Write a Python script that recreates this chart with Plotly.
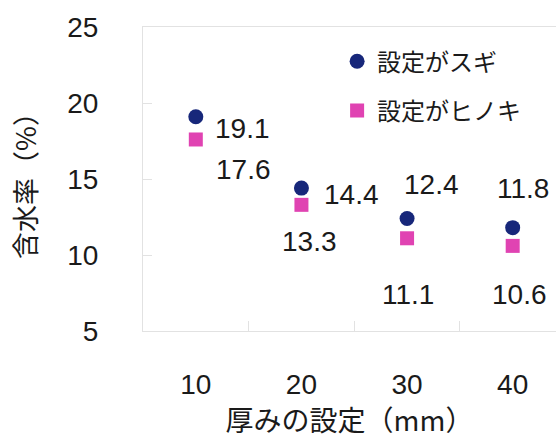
import plotly.graph_objects as go

# thickness settings (mm) and measured moisture content (%)
thickness = ["10", "20", "30", "40"]
sugi = [19.1, 14.4, 12.4, 11.8]
hinoki = [17.6, 13.3, 11.1, 10.6]
series_names = ["設定がスギ", "設定がヒノキ"]

# label offsets (px) from each marker
sugi_offsets = [(47, -12), (50, -6), (24, 34), (10, 39)]
hinoki_offsets = [(48, -30), (8, -37), (1, -56), (7, -49)]

FONT = "Liberation Sans, Arial, Noto Sans CJK JP, sans-serif"
JP_FONT = "Noto Sans CJK JP, sans-serif"
TEXT = "#1a1a1a"
NAVY = "#17277a"
MAGENTA = "#e043b2"
FRAME = "#e2e2e2"

fig = go.Figure()
fig.add_trace(go.Scatter(
    x=thickness, y=sugi, mode="markers", name=series_names[0],
    legendgroup="a",
    marker=dict(symbol="circle", size=15, color=NAVY),
))
fig.add_trace(go.Scatter(
    x=thickness, y=hinoki, mode="markers", name=series_names[1],
    legendgroup="b",
    marker=dict(symbol="square", size=14, color=MAGENTA),
))

# value labels; category positions are given by index on the category axis
for ys, offs in ((sugi, sugi_offsets), (hinoki, hinoki_offsets)):
    for i, (yv, (dx, dy)) in enumerate(zip(ys, offs)):
        fig.add_annotation(
            x=i, y=yv, text=f"{yv:.1f}", showarrow=False,
            xshift=dx, yshift=dy,
            font=dict(family=FONT, size=28, color=TEXT),
        )

fig.update_layout(
    width=556, height=439,
    margin=dict(l=143, r=0, t=27, b=108),
    paper_bgcolor="white", plot_bgcolor="white",
    showlegend=True,
    legend=dict(
        x=0.47, y=0.96, xanchor="left", yanchor="top",
        bgcolor="rgba(0,0,0,0)", tracegroupgap=15,
        font=dict(family=JP_FONT, size=24, color=TEXT),
    ),
    xaxis=dict(
        type="category", range=[-0.5, 3.41],
        tickson="boundaries", ticks="inside", ticklen=10, tickcolor=FRAME,
        showgrid=False, showline=True, linecolor=FRAME, mirror=True,
        tickfont=dict(family=FONT, size=28, color=TEXT),
        ticklabelstandoff=28,
        title=dict(text="厚みの設定（mm）", standoff=14,
                   font=dict(family=JP_FONT, size=28, color=TEXT)),
    ),
    yaxis=dict(
        range=[5, 25], tickvals=[5, 10, 15, 20, 25],
        ticks="inside", ticklen=9, tickcolor=FRAME,
        showgrid=False, showline=True, linecolor=FRAME, mirror=True,
        zeroline=False,
        tickfont=dict(family=FONT, size=28, color=TEXT),
        ticklabelstandoff=38,
        title=dict(text="含水率（%）", standoff=22,
                   font=dict(family=JP_FONT, size=27, color=TEXT)),
    ),
)

fig.write_html("out.html")
